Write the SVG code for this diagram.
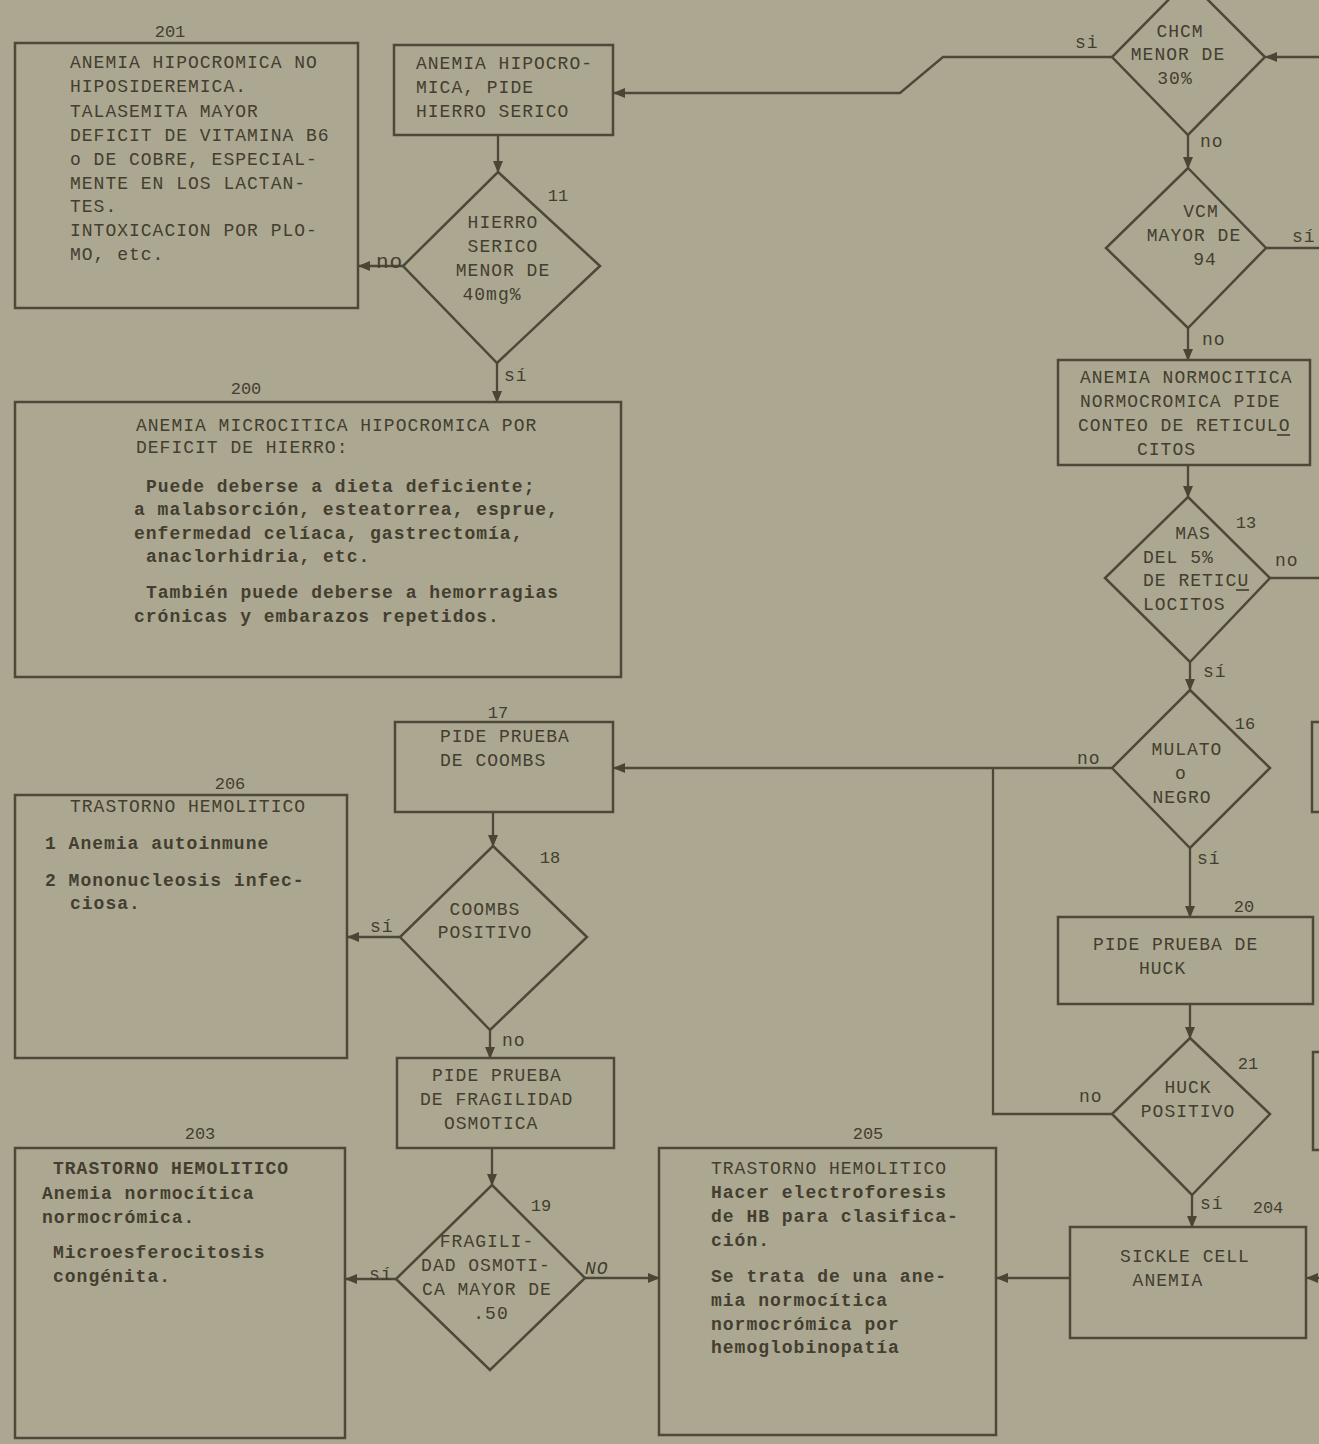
<svg xmlns="http://www.w3.org/2000/svg" width="1319" height="1444" viewBox="0 0 1319 1444">
<defs>
<marker id="ah" markerUnits="userSpaceOnUse" markerWidth="12" markerHeight="10" refX="11" refY="5" orient="auto">
<path d="M0,0 L12,5 L0,10 z" fill="#4a4535"/>
</marker>
<style>
.bg{fill:#aca791}
.box{fill:none;stroke:#4d4838;stroke-width:2.5}
.ln{fill:none;stroke:#4d4838;stroke-width:2.3}
.ar{fill:none;stroke:#4d4838;stroke-width:2.3;marker-end:url(#ah)}
text{font-family:"Liberation Mono","DejaVu Sans Mono",monospace;font-size:18px;letter-spacing:1px;fill:#433e2f}
.b{font-weight:bold}
.c{text-anchor:middle}
.n{font-size:17px;letter-spacing:0}
</style>
</defs>
<rect class="bg" x="0" y="0" width="1319" height="1444"/>

<g id="connectors">
<line class="ar" x1="498" y1="135" x2="498" y2="172"/>
<line class="ar" x1="403" y1="266" x2="359" y2="266"/>
<line class="ar" x1="497" y1="363" x2="497" y2="402"/>
<line class="ar" x1="1319" y1="57" x2="1266" y2="57"/>
<path class="ar" d="M1112,57 L943,57 L900,93 L614,93"/>
<line class="ar" x1="1188" y1="135" x2="1188" y2="168"/>
<line class="ln" x1="1266" y1="248" x2="1319" y2="248"/>
<line class="ar" x1="1188" y1="328" x2="1188" y2="360"/>
<line class="ar" x1="1188" y1="465" x2="1188" y2="497"/>
<line class="ln" x1="1270" y1="578" x2="1319" y2="578"/>
<line class="ar" x1="1190" y1="662" x2="1190" y2="690"/>
<line class="ar" x1="1112" y1="768" x2="614" y2="768"/>
<path class="ln" d="M1112,1114 L993,1114 L993,768"/>
<line class="ar" x1="1190" y1="848" x2="1190" y2="917"/>
<line class="ar" x1="1190" y1="1004" x2="1190" y2="1038"/>
<line class="ar" x1="1192" y1="1195" x2="1192" y2="1227"/>
<line class="ar" x1="1070" y1="1278" x2="997" y2="1278"/>
<line class="ar" x1="1319" y1="1278" x2="1307" y2="1278"/>
<line class="ar" x1="493" y1="812" x2="493" y2="846"/>
<line class="ar" x1="400" y1="937" x2="348" y2="937"/>
<line class="ar" x1="490" y1="1030" x2="490" y2="1058"/>
<line class="ar" x1="492" y1="1148" x2="492" y2="1185"/>
<line class="ar" x1="396" y1="1279" x2="346" y2="1279"/>
<line class="ar" x1="585" y1="1278" x2="659" y2="1278"/>
<text x="1075" y="48">si</text>
<text x="1200" y="147">no</text>
<text x="1292" y="242">sí</text>
<text x="1202" y="345">no</text>
<text x="1275" y="566">no</text>
<text x="1203" y="677">sí</text>
<text x="1077" y="764">no</text>
<text x="1197" y="864">sí</text>
<text x="1079" y="1102">no</text>
<text x="1200" y="1209">sí</text>
<text x="376" y="268" style="font-size:21px">no</text>
<text x="504" y="381">sí</text>
<text x="370" y="932">sí</text>
<text x="502" y="1046">no</text>
<text x="369" y="1280">sí</text>
<text x="585" y="1274" style="font-style:italic">NO</text>
</g>

<g id="n201">
<rect class="box" x="15" y="43" width="343" height="265"/>
<text class="c n" x="170" y="37">201</text>
<text x="70" y="68">ANEMIA HIPOCROMICA NO</text>
<text x="70" y="92">HIPOSIDEREMICA.</text>
<text x="70" y="117">TALASEMITA MAYOR</text>
<text x="70" y="141">DEFICIT DE VITAMINA B6</text>
<text x="70" y="165">o DE COBRE, ESPECIAL-</text>
<text x="70" y="189">MENTE EN LOS LACTAN-</text>
<text x="70" y="212">TES.</text>
<text x="70" y="236">INTOXICACION POR PLO-</text>
<text x="70" y="260">MO, etc.</text>
</g>

<g id="n10">
<rect class="box" x="394" y="45" width="219" height="90"/>
<text x="416" y="69">ANEMIA HIPOCRO-</text>
<text x="416" y="93">MICA, PIDE</text>
<text x="416" y="117">HIERRO SERICO</text>
</g>

<g id="n11">
<polygon class="box" points="498,172 600,266 497,363 403,266"/>
<text class="c n" x="558" y="201">11</text>
<text class="c" x="503" y="228">HIERRO</text>
<text class="c" x="503" y="252">SERICO</text>
<text class="c" x="503" y="276">MENOR DE</text>
<text class="c" x="492" y="300">40mg%</text>
</g>

<g id="n200">
<rect class="box" x="15" y="402" width="606" height="275"/>
<text class="c n" x="246" y="394">200</text>
<text x="136" y="431">ANEMIA MICROCITICA HIPOCROMICA POR</text>
<text x="136" y="453">DEFICIT DE HIERRO:</text>
<text class="b" x="146" y="492">Puede deberse a dieta deficiente;</text>
<text class="b" x="134" y="515">a malabsorción, esteatorrea, esprue,</text>
<text class="b" x="134" y="539">enfermedad celíaca, gastrectomía,</text>
<text class="b" x="146" y="562">anaclorhidria, etc.</text>
<text class="b" x="146" y="598">También puede deberse a hemorragias</text>
<text class="b" x="134" y="622">crónicas y embarazos repetidos.</text>
</g>

<g id="n_chcm">
<polygon class="box" points="1188,-20 1265,57 1188,135 1112,57"/>
<text class="c" x="1180" y="37">CHCM</text>
<text class="c" x="1178" y="60">MENOR DE</text>
<text class="c" x="1175" y="84">30%</text>
</g>

<g id="n_vcm">
<polygon class="box" points="1188,168 1266,248 1188,328 1106,248"/>
<text class="c" x="1201" y="217">VCM</text>
<text class="c" x="1194" y="241">MAYOR DE</text>
<text class="c" x="1205" y="265">94</text>
</g>

<g id="n12">
<rect class="box" x="1058" y="360" width="252" height="105"/>
<text x="1080" y="383">ANEMIA NORMOCITICA</text>
<text x="1080" y="407">NORMOCROMICA PIDE</text>
<text x="1078" y="431">CONTEO DE RETICULO</text>
<line class="ln" x1="1277" y1="435" x2="1290" y2="435" style="stroke-width:1.8"/>
<text x="1137" y="455">CITOS</text>
</g>

<g id="n13">
<polygon class="box" points="1188,497 1270,578 1190,662 1105,578"/>
<text class="c n" x="1246" y="528">13</text>
<text class="c" x="1193" y="539">MAS</text>
<text x="1143" y="563">DEL 5%</text>
<text x="1143" y="586">DE RETICU</text>
<line class="ln" x1="1236" y1="590" x2="1249" y2="590" style="stroke-width:1.8"/>
<text x="1143" y="610">LOCITOS</text>
</g>

<g id="n16">
<polygon class="box" points="1190,690 1270,768 1190,848 1112,768"/>
<text class="c n" x="1245" y="729">16</text>
<text class="c" x="1187" y="755">MULATO</text>
<text class="c" x="1181" y="779">o</text>
<text class="c" x="1182" y="803">NEGRO</text>
</g>

<g id="n20">
<rect class="box" x="1058" y="917" width="255" height="87"/>
<text class="c n" x="1244" y="912">20</text>
<text x="1093" y="950">PIDE PRUEBA DE</text>
<text x="1139" y="974">HUCK</text>
</g>

<g id="n21">
<polygon class="box" points="1190,1038 1270,1114 1192,1195 1112,1114"/>
<text class="c n" x="1248" y="1069">21</text>
<text class="c" x="1188" y="1093">HUCK</text>
<text class="c" x="1188" y="1117">POSITIVO</text>
</g>

<g id="n204">
<rect class="box" x="1070" y="1227" width="236" height="111"/>
<text class="c n" x="1268" y="1213">204</text>
<text class="c" x="1185" y="1262">SICKLE CELL</text>
<text class="c" x="1168" y="1286">ANEMIA</text>
</g>

<g id="n_edge">
<path class="box" d="M1319,722 H1312 V812 H1319"/>
<path class="box" d="M1319,1052 H1313 V1150 H1319"/>
</g>

<g id="n17">
<rect class="box" x="395" y="722" width="218" height="90"/>
<text class="c n" x="498" y="718">17</text>
<text x="440" y="742">PIDE PRUEBA</text>
<text x="440" y="766">DE COOMBS</text>
</g>

<g id="n18">
<polygon class="box" points="493,846 587,937 490,1030 400,937"/>
<text class="c n" x="550" y="863">18</text>
<text class="c" x="485" y="915">COOMBS</text>
<text class="c" x="485" y="938">POSITIVO</text>
</g>

<g id="n206">
<rect class="box" x="15" y="795" width="332" height="263"/>
<text class="c n" x="230" y="789">206</text>
<text x="70" y="812">TRASTORNO HEMOLITICO</text>
<text class="b" x="45" y="849">1 Anemia autoinmune</text>
<text class="b" x="45" y="886">2 Mononucleosis infec-</text>
<text class="b" x="70" y="909">ciosa.</text>
</g>

<g id="n_frag">
<rect class="box" x="397" y="1058" width="217" height="90"/>
<text x="432" y="1081">PIDE PRUEBA</text>
<text x="420" y="1105">DE FRAGILIDAD</text>
<text x="444" y="1129">OSMOTICA</text>
</g>

<g id="n19">
<polygon class="box" points="492,1185 585,1278 490,1370 396,1279"/>
<text class="c n" x="541" y="1211">19</text>
<text class="c" x="487" y="1247">FRAGILI-</text>
<text class="c" x="486" y="1271">DAD OSMOTI-</text>
<text class="c" x="487" y="1295">CA MAYOR DE</text>
<text class="c" x="491" y="1319">.50</text>
</g>

<g id="n203">
<rect class="box" x="15" y="1148" width="330" height="290"/>
<text class="c n" x="200" y="1139">203</text>
<text class="b" x="53" y="1174">TRASTORNO HEMOLITICO</text>
<text class="b" x="42" y="1199">Anemia normocítica</text>
<text class="b" x="42" y="1223">normocrómica.</text>
<text class="b" x="53" y="1258">Microesferocitosis</text>
<text class="b" x="53" y="1282">congénita.</text>
</g>

<g id="n205">
<rect class="box" x="659" y="1148" width="337" height="287"/>
<text class="c n" x="868" y="1139">205</text>
<text x="711" y="1174">TRASTORNO HEMOLITICO</text>
<text class="b" x="711" y="1198">Hacer electroforesis</text>
<text class="b" x="711" y="1222">de HB para clasifica-</text>
<text class="b" x="711" y="1246">ción.</text>
<text class="b" x="711" y="1282">Se trata de una ane-</text>
<text class="b" x="711" y="1306">mia normocítica</text>
<text class="b" x="711" y="1330">normocrómica por</text>
<text class="b" x="711" y="1353">hemoglobinopatía</text>
</g>
</svg>
